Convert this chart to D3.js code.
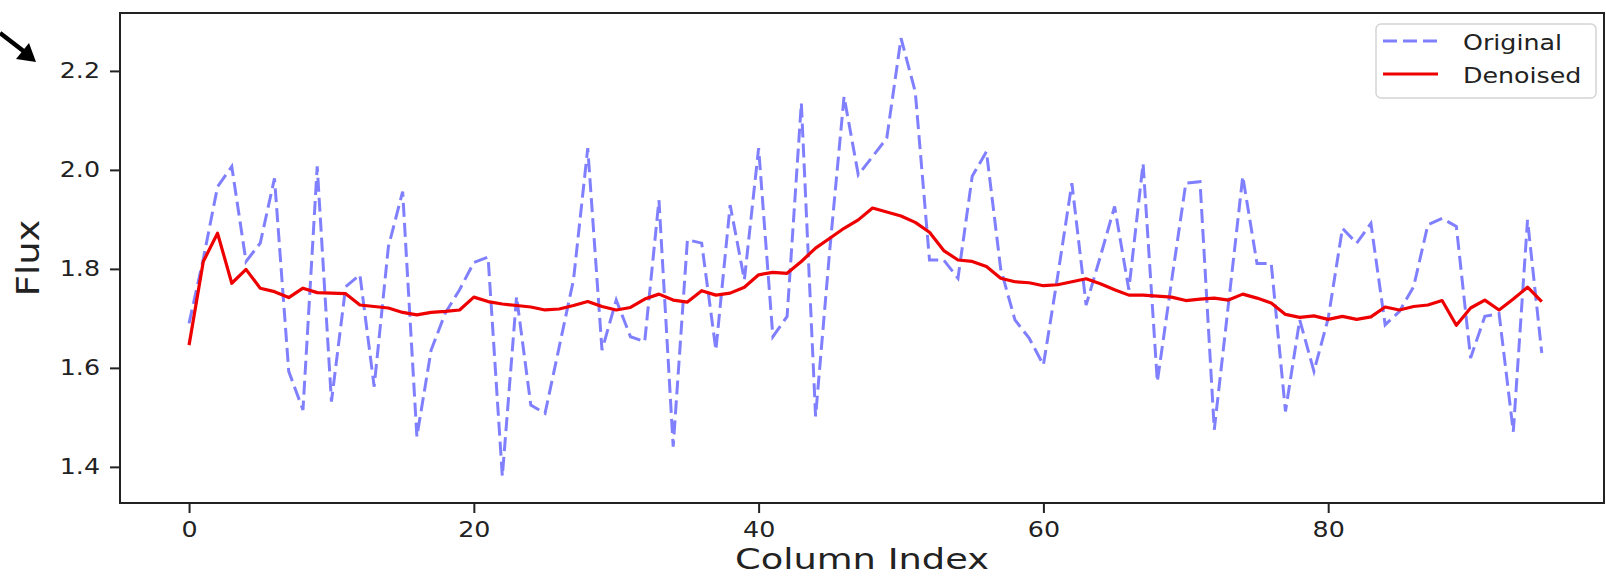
<!DOCTYPE html>
<html>
<head>
    <title>Original vs Denoised Flux</title>
    <script src="https://d3js.org/d3.v7.min.js"></script>
    <style>
        body {margin: 0; background: #ffffff;}
        svg {display: block; font-family: "DejaVu Sans", sans-serif;}
    </style>
</head>
<body>
<script>
    // values, one per column
    const columns = d3.range(96);
    const original = [
        1.690, 1.820, 1.966, 2.007, 1.815, 1.852, 1.983, 1.593, 1.515, 2.007,
        1.532, 1.764, 1.788, 1.562, 1.845, 1.956, 1.461, 1.636, 1.711, 1.758,
        1.813, 1.824, 1.381, 1.744, 1.525, 1.508, 1.643, 1.778, 2.044, 1.636,
        1.737, 1.663, 1.653, 1.939, 1.441, 1.859, 1.852, 1.636, 1.929, 1.778,
        2.044, 1.663, 1.704, 2.135, 1.502, 1.840, 2.148, 1.990, 2.027, 2.064,
        2.266, 2.158, 1.818, 1.818, 1.781, 1.987, 2.037, 1.800, 1.697, 1.660,
        1.606, 1.785, 1.973, 1.727, 1.825, 1.926, 1.758, 2.013, 1.572, 1.775,
        1.973, 1.976, 1.475, 1.730, 1.987, 1.811, 1.811, 1.512, 1.697, 1.593,
        1.700, 1.882, 1.852, 1.892, 1.687, 1.714, 1.764, 1.889, 1.902, 1.886,
        1.620, 1.704, 1.710, 1.471, 1.899, 1.630
    ];
    const denoised = [
        1.646, 1.815, 1.872, 1.771, 1.799, 1.761, 1.754, 1.742, 1.761, 1.752,
        1.751, 1.750, 1.727, 1.724, 1.721, 1.712, 1.707, 1.712, 1.714, 1.717,
        1.743, 1.734, 1.729, 1.726, 1.723, 1.717, 1.719, 1.726, 1.734, 1.724,
        1.717, 1.722, 1.739, 1.749, 1.737, 1.733, 1.756, 1.747, 1.751, 1.763,
        1.788, 1.793, 1.791, 1.815, 1.842, 1.862, 1.882, 1.899, 1.923, 1.915,
        1.907, 1.894, 1.874, 1.837, 1.818, 1.815, 1.805, 1.781, 1.774, 1.772,
        1.766, 1.768, 1.774, 1.780, 1.770, 1.758, 1.747, 1.747, 1.745, 1.743,
        1.736, 1.739, 1.741, 1.737, 1.749, 1.741, 1.731, 1.708, 1.702, 1.705,
        1.698, 1.704, 1.698, 1.703, 1.723, 1.717, 1.724, 1.727, 1.736, 1.686,
        1.721, 1.737, 1.717, 1.739, 1.763, 1.734
    ];
    const xTicks = [0, 20, 40, 60, 80];
    const yTicks = [1.4, 1.6, 1.8, 2.0, 2.2];
    const seriesNames = ["Original", "Denoised"];

    const width = 1606;
    const height = 577;
    const plotLeft = 120, plotRight = 1604, plotTop = 13, plotBottom = 503;

    const svg = d3.select("body")
        .append("svg")
        .attr("width", width)
        .attr("height", height);

    svg.append("rect")
        .attr("width", width)
        .attr("height", height)
        .attr("fill", "#ffffff");

    // scales
    const x = d3.scaleLinear().domain([-4.85, 99.37]).range([plotLeft, plotRight]);
    const y = d3.scaleLinear().domain([1.327, 2.317]).range([plotBottom, plotTop]);

    // the lines
    const line = d3.line()
        .x(function(d, i) { return x(columns[i]); })
        .y(function(d) { return y(d); });

    svg.append("path")
        .datum(original)
        .attr("d", line)
        .attr("fill", "none")
        .attr("stroke", "#8080ff")
        .attr("stroke-width", 3)
        .attr("stroke-dasharray", "14,6");

    svg.append("path")
        .datum(denoised)
        .attr("d", line)
        .attr("fill", "none")
        .attr("stroke", "#ee0000")
        .attr("stroke-width", 3.2)
        .attr("stroke-linejoin", "round");

    // axes
    const xAxis = svg.append("g")
        .attr("transform", "translate(0," + plotBottom + ")")
        .call(d3.axisBottom(x).tickValues(xTicks).tickSize(10).tickPadding(8));

    const yAxis = svg.append("g")
        .attr("transform", "translate(" + plotLeft + ",0)")
        .call(d3.axisLeft(y).tickValues(yTicks).tickFormat(d3.format(".1f")).tickSize(10).tickPadding(10));

    [xAxis, yAxis].forEach(function(a) {
        a.select(".domain").remove();
        a.selectAll(".tick line").attr("stroke", "#222").attr("stroke-width", 2);
        a.selectAll(".tick text").attr("fill", "#222").style("font-size", "22px")
            .style("font-family", "'DejaVu Sans', sans-serif");
    });

    // frame
    svg.append("rect")
        .attr("x", plotLeft)
        .attr("y", plotTop)
        .attr("width", plotRight - plotLeft)
        .attr("height", plotBottom - plotTop)
        .attr("fill", "none")
        .attr("stroke", "#222")
        .attr("stroke-width", 2);

    // axis labels
    svg.append("text")
        .attr("x", (plotLeft + plotRight) / 2)
        .attr("y", 569)
        .attr("text-anchor", "middle")
        .attr("fill", "#222")
        .style("font-size", "28px")
        .text("Column Index");

    svg.append("text")
        .attr("transform", "translate(39," + (plotTop + plotBottom) / 2 + ") rotate(-90)")
        .attr("text-anchor", "middle")
        .attr("fill", "#222")
        .style("font-size", "32px")
        .text("Flux");

    // legend
    const legend = svg.append("g");
    legend.append("rect")
        .attr("x", 1376).attr("y", 24)
        .attr("width", 220).attr("height", 74)
        .attr("rx", 5)
        .attr("fill", "#ffffff").attr("fill-opacity", 0.8)
        .attr("stroke", "#d4d4d4").attr("stroke-width", 1.5);

    const legendStyles = [
        {color: "#8080ff", dash: "14,6"},
        {color: "#ee0000", dash: null}
    ];
    seriesNames.forEach(function(name, i) {
        const ly = 41 + i * 33;
        legend.append("line")
            .attr("x1", 1383).attr("x2", 1438)
            .attr("y1", ly).attr("y2", ly)
            .attr("stroke", legendStyles[i].color)
            .attr("stroke-width", 3)
            .attr("stroke-dasharray", legendStyles[i].dash);
        legend.append("text")
            .attr("x", 1463).attr("y", ly + 9)
            .attr("fill", "#222")
            .style("font-size", "22px")
            .text(name);
    });

    // small arrow left over in the top-left corner
    svg.append("line")
        .attr("x1", 0).attr("y1", 33)
        .attr("x2", 26).attr("y2", 53)
        .attr("stroke", "#000").attr("stroke-width", 4.5);
    svg.append("path")
        .attr("d", "M16,59 L36,62 L29,43 Z")
        .attr("fill", "#000");

    // the picture is stretched sideways, so widen every text a little
    const stretch = 1.15;
    svg.selectAll("text").each(function() {
        const w = this.getComputedTextLength();
        const s = this.textContent === "Column Index" ? stretch * 32 / 28 : stretch;
        d3.select(this).attr("textLength", w * s).attr("lengthAdjust", "spacingAndGlyphs");
    });
</script>
</body>
</html>
